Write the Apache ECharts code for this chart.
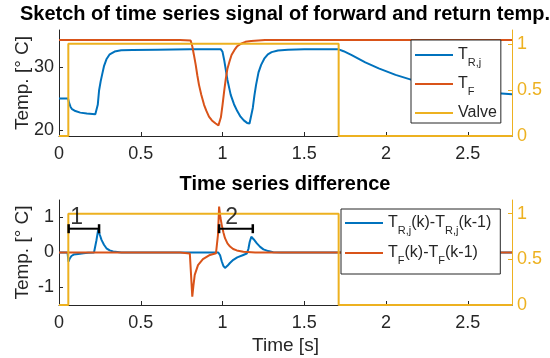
<!DOCTYPE html>
<html>
<head>
<meta charset="utf-8">
<script src="https://cdn.jsdelivr.net/npm/echarts@6/dist/echarts.min.js"></script>
<style>
  html, body { margin: 0; padding: 0; background: #fff; }
  #chart { width: 550px; height: 358px; }
</style>
</head>
<body>
<div id="chart"></div>
<script>
// ticks
const xTicks = [0, 0.5, 1, 1.5, 2, 2.5]
const tempTicks = [20, 30]
const diffTicks = [-1, 0, 1]
const valveTicks = [0, 0.5, 1]

// return temperature T_R,j
const timeR = [0, 0.055, 0.062, 0.07, 0.08, 0.1, 0.13, 0.17, 0.222, 0.23, 0.237, 0.245, 0.255, 0.265, 0.275, 0.29, 0.31, 0.34, 0.38, 0.45, 0.6, 0.8, 0.99, 1.0, 1.01, 1.02, 1.03, 1.05, 1.07, 1.09, 1.11, 1.13, 1.15, 1.165, 1.175, 1.185, 1.195, 1.205, 1.22, 1.236, 1.255, 1.277, 1.3, 1.339, 1.4, 1.5, 1.71, 1.74, 1.79, 1.873, 1.955, 2.058, 2.157, 2.3, 2.45, 2.6, 2.77]
const tempR = [25.0, 25.0, 24.3, 23.7, 23.3, 23.0, 22.75, 22.6, 22.5, 22.7, 24.0, 26.3, 27.8, 29.0, 30.2, 31.3, 32.1, 32.55, 32.75, 32.8, 32.85, 32.9, 32.9, 32.5, 31.2, 29.6, 28.0, 25.6, 24.1, 23.0, 22.1, 21.5, 21.1, 21.0, 21.2, 23.5, 25.5, 27.2, 29.2, 30.4, 31.4, 32.1, 32.45, 32.7, 32.85, 32.9, 32.9, 32.6, 31.96, 30.8, 29.84, 28.8, 28.0, 27.1, 26.4, 26.0, 25.7]

// forward temperature T_F
const timeF = [0, 0.74, 0.805, 0.815, 0.825, 0.836, 0.846, 0.856, 0.87, 0.887, 0.9, 0.917, 0.935, 0.958, 0.975, 0.983, 0.99, 1.0, 1.01, 1.02, 1.03, 1.042, 1.055, 1.073, 1.09, 1.113, 1.14, 1.175, 1.26, 2.77]
const tempF = [34.4, 34.4, 34.3, 33.4, 32.0, 30.4, 28.7, 27.2, 25.6, 24.0, 23.1, 22.1, 21.5, 21.0, 20.7, 20.5, 22.0, 24.0, 26.2, 28.2, 29.8, 30.9, 32.0, 32.8, 33.4, 33.8, 34.1, 34.25, 34.4, 34.4]

// valve state
const valveTime = [0, 0.057, 0.057, 1.71, 1.71, 2.77]
const valveState = [0, 0, 1, 1, 0, 0]

// differences
const timeDR = [0, 0.052, 0.058, 0.066, 0.076, 0.09, 0.117, 0.15, 0.178, 0.214, 0.222, 0.229, 0.24, 0.25, 0.26, 0.275, 0.29, 0.31, 0.331, 0.382, 0.974, 0.985, 0.995, 1.005, 1.015, 1.03, 1.045, 1.066, 1.09, 1.127, 1.148, 1.158, 1.166, 1.176, 1.19, 1.21, 1.23, 1.25, 1.28, 1.31, 1.36, 1.71, 1.72, 2.2, 2.77]
const diffR = [0, 0, -0.26, -0.17, -0.1, -0.06, -0.04, -0.02, -0.01, 0, 0.05, 0.35, 0.66, 0.5, 0.36, 0.22, 0.12, 0.06, 0.03, 0, 0, -0.08, -0.25, -0.38, -0.44, -0.38, -0.3, -0.21, -0.14, -0.07, -0.03, 0.1, 0.3, 0.45, 0.38, 0.26, 0.16, 0.09, 0.04, 0.01, 0, 0, -0.01, -0.006, -0.003]
const timeDF = [0, 0.74, 0.75, 0.8, 0.807, 0.815, 0.822, 0.83, 0.85, 0.88, 0.923, 0.96, 0.968, 0.972, 0.979, 0.987, 0.995, 1.005, 1.015, 1.03, 1.046, 1.065, 1.087, 1.127, 1.2, 2.77]
const diffF = [0, 0, -0.03, -0.03, -0.05, -1.26, -0.95, -0.64, -0.36, -0.19, -0.07, -0.02, 0, 0.5, 1.31, 1.0, 0.79, 0.58, 0.41, 0.26, 0.17, 0.1, 0.06, 0.02, 0, 0]

// delay brackets and their numbers
const bracketNames = ['1', '2']
const bracketStart = [0.059, 0.979]
const bracketEnd = [0.245, 1.185]
const bracketLevel = [0.68, 0.68]
const bracketLabelX = [0.108, 1.056]
const bracketLabelY = [1.0, 1.0]

const FONT = 'Liberation Sans, Arial, Helvetica, sans-serif'
const INK = '#262626'
const BLUE = '#0072BD'
const ORANGE = '#D95319'
const YELLOW = '#EDB120'

const pairs = (xs, ys) => xs.map((x, i) => [x, ys[i]])

const legendText = {
  TR: '{m|T}{s|R,j}',
  TF: '{m|T}{s|F}',
  Valve: '{m|Valve}',
  dR: '{m|T}{s|R,j}{m|(k)-T}{s|R,j}{m|(k-1)}',
  dF: '{m|T}{s|F}{m|(k)-T}{s|F}{m|(k-1)}'
}
const legendRich = {
  m: { fontSize: 16, lineHeight: 26, color: INK, fontFamily: FONT },
  s: { fontSize: 11, lineHeight: 9, color: INK, fontFamily: FONT, verticalAlign: 'bottom' }
}

function xAxisOpt(grid, withName) {
  return {
    type: 'value', gridIndex: grid, min: 0, max: 2.77,
    name: withName ? 'Time [s]' : '',
    nameLocation: 'middle', nameGap: 31, nameMoveOverlap: false,
    nameTextStyle: { fontSize: 19, color: INK, fontFamily: FONT },
    axisLine: { onZero: false, lineStyle: { color: INK, width: 1 } },
    axisTick: { inside: true, length: 4, customValues: xTicks, lineStyle: { color: INK } },
    axisLabel: { customValues: xTicks, fontSize: 18, color: INK, fontFamily: FONT, margin: 9 },
    splitLine: { show: false }
  }
}

function leftAxisOpt(grid, min, max, ticks) {
  return {
    type: 'value', gridIndex: grid, position: 'left', min: min, max: max,
    name: 'Temp. [° C]', nameLocation: 'middle', nameGap: 27, nameMoveOverlap: false,
    nameTextStyle: { fontSize: 19, color: INK, fontFamily: FONT },
    axisLine: { show: true, onZero: false, lineStyle: { color: INK, width: 1 } },
    axisTick: { show: true, inside: true, length: 4, customValues: ticks, lineStyle: { color: INK } },
    axisLabel: { customValues: ticks, fontSize: 18, color: INK, fontFamily: FONT, margin: 5 },
    splitLine: { show: false }
  }
}

function rightAxisOpt(grid) {
  return {
    type: 'value', gridIndex: grid, position: 'right', min: 0, max: 1.15,
    axisLine: { show: true, onZero: false, lineStyle: { color: YELLOW, width: 1 } },
    axisTick: { show: true, inside: true, length: 4, customValues: valveTicks, lineStyle: { color: YELLOW } },
    axisLabel: { customValues: valveTicks, fontSize: 18, color: YELLOW, fontFamily: FONT, margin: 5 },
    splitLine: { show: false }
  }
}

function lineSeries(name, color, xi, yi, data) {
  return {
    name: name, type: 'line', xAxisIndex: xi, yAxisIndex: yi,
    data: data, showSymbol: false, symbol: 'none',
    lineStyle: { color: color, width: 2 }, itemStyle: { color: color },
    animation: false
  }
}

function legendOpt(names, left, top, gap, padding) {
  return {
    data: names, orient: 'vertical',
    left: left, top: top, padding: padding, itemGap: gap,
    itemWidth: 38, itemHeight: 2, icon: 'rect', selectedMode: false,
    backgroundColor: '#fff', borderColor: INK, borderWidth: 1,
    formatter: name => legendText[name],
    textStyle: { rich: legendRich }
  }
}

const bracketSeries = bracketNames.map((label, i) => ({
  type: 'line', xAxisIndex: 1, yAxisIndex: 2,
  symbol: 'rect', symbolSize: [2.5, 9], showSymbol: true,
  lineStyle: { color: '#000', width: 2 }, itemStyle: { color: '#000' },
  animation: false, silent: true, z: 5,
  data: [[bracketStart[i], bracketLevel[i]], [bracketEnd[i], bracketLevel[i]]]
}))

const bracketText = {
  type: 'scatter', xAxisIndex: 1, yAxisIndex: 2,
  symbolSize: 0, silent: true, animation: false, z: 5,
  data: bracketNames.map((label, i) => ({ value: [bracketLabelX[i], bracketLabelY[i]], name: label })),
  label: {
    show: true, position: 'inside', formatter: p => p.name,
    fontSize: 23, color: '#000', fontFamily: FONT
  }
}

const chart = echarts.init(document.getElementById('chart'), null, { renderer: 'canvas' })

chart.setOption({
  backgroundColor: '#fff',
  animation: false,
  title: [
    {
      text: 'Sketch of time series signal of forward and return temp.',
      left: 285, top: 4, textAlign: 'center', padding: 0,
      textStyle: { fontSize: 20, fontWeight: 'bold', color: '#000', fontFamily: FONT }
    },
    {
      text: 'Time series difference',
      left: 285, top: 174, textAlign: 'center', padding: 0,
      textStyle: { fontSize: 20, fontWeight: 'bold', color: '#000', fontFamily: FONT }
    }
  ],
  grid: [
    { left: 59, right: 38, top: 30, height: 106, outerBoundsMode: 'none' },
    { left: 59, right: 38, top: 200, height: 105, outerBoundsMode: 'none' }
  ],
  xAxis: [xAxisOpt(0, false), xAxisOpt(1, true)],
  yAxis: [
    leftAxisOpt(0, 19, 36, tempTicks),
    rightAxisOpt(0),
    leftAxisOpt(1, -1.5, 1.5, diffTicks),
    rightAxisOpt(1)
  ],
  legend: [
    legendOpt(['TR', 'TF', 'Valve'], 411, 40, 8, [7, 4, 2, 4]),
    legendOpt(['dR', 'dF'], 341, 209, 9, [6, 9, 8, 4])
  ],
  series: [
    lineSeries('TR', BLUE, 0, 0, pairs(timeR, tempR)),
    lineSeries('TF', ORANGE, 0, 0, pairs(timeF, tempF)),
    lineSeries('Valve', YELLOW, 0, 1, pairs(valveTime, valveState)),
    lineSeries('dR', BLUE, 1, 2, pairs(timeDR, diffR)),
    lineSeries('dF', ORANGE, 1, 2, pairs(timeDF, diffF)),
    lineSeries('Valve2', YELLOW, 1, 3, pairs(valveTime, valveState))
  ].concat(bracketSeries, [bracketText])
})
</script>
</body>
</html>
